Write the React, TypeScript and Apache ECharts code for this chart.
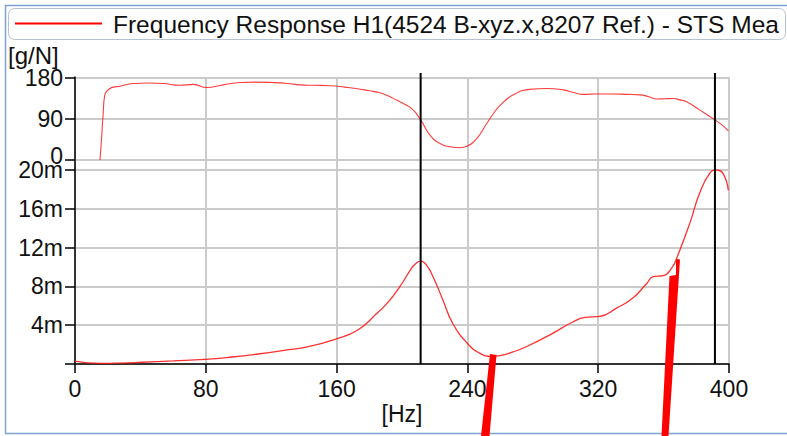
import React, { useEffect, useRef } from "react";
import * as echarts from "echarts";

// ---- data ----
const xTicks = [0, 80, 160, 240, 320, 400];
const phaseTicks = [0, 90, 180];
const magTicks = [0, 4, 8, 12, 16, 20]; // in m(g/N)

const phaseFreq = [15.3, 16.3, 17.2, 18.2, 19.5, 21.4, 23.4, 27.5, 35.6, 45, 54, 64, 72.4, 80.5, 90.7, 101, 110, 121, 130, 137.6, 146, 156, 165, 172, 180, 186, 192, 197, 200.8, 206.8, 211.4, 217, 223, 231, 235.5, 239.6, 245.7, 251.8, 256, 260, 268, 278, 288.5, 298.6, 305, 310.9, 319, 329, 338, 345.6, 351, 355.8, 361, 366, 370, 374, 382, 391.4, 396, 399.6];
const phaseDeg = [0, 50, 100, 143, 151, 157, 160, 162, 168, 169, 168, 164, 166, 159, 165, 170, 171, 170, 168, 165, 164, 163, 160, 157, 152, 148, 140, 131, 124, 110, 88, 55, 37, 28, 27, 30, 47, 80, 102, 120, 143, 155, 157, 154, 148, 144, 145, 145, 144, 143, 139, 134, 134.5, 135, 132, 128, 110, 88, 76, 64];

const magFreq = [0, 8, 16, 28, 40.8, 60, 79.5, 96, 112, 128, 142.7, 159, 173, 184.5, 190, 195, 200, 204, 207.5, 211.4, 215, 219, 225, 231, 239.6, 247.7, 254.8, 260, 268, 276, 290.5, 304.7, 312, 321, 331, 341, 349.7, 353.6, 359.7, 365, 368, 376, 382, 388.4, 392.5, 396.5, 399.6];
const magVal = [0.3, 0.12, 0.07, 0.1, 0.18, 0.32, 0.48, 0.72, 1.03, 1.4, 1.78, 2.55, 3.5, 5.2, 6.1, 7.1, 8.3, 9.4, 10.2, 10.6, 10.2, 9.0, 6.6, 4.2, 2.2, 1.1, 0.78, 0.86, 1.25, 1.78, 3.0, 4.36, 4.8, 4.9, 5.74, 6.77, 8.3, 9.0, 9.1, 9.9, 10.9, 14.5, 17.6, 19.7, 20.0, 19.6, 17.9];

const markerFreq = [211.4, 391.4];

const legendText = "Frequency Response H1(4524 B-xyz.x,8207 Ref.) - STS Mea";
const yUnit = "[g/N]";
const xUnit = "[Hz]";

const FONT = "Liberation Sans";
const GRID = "#cbcbcb";
const RED = "#ff1a1a";

export default function App() {
  const ref = useRef<HTMLDivElement>(null);
  useEffect(() => {
    if (!ref.current) return;
    const chart = echarts.init(ref.current, undefined, { renderer: "svg" });
    const xMin = xTicks[0];
    const xMax = xTicks[xTicks.length - 1];
    const xInt = xTicks[1] - xTicks[0];

    const lbl = { fontFamily: FONT, fontSize: 23, color: "#111" };

    const option: any = {
      animation: false,
      backgroundColor: "#fff",
      grid: [
        { left: 75, right: 58, top: 77, bottom: 72 }, // vertical grid lines + y axis line
        { left: 75, right: 58, top: 78, height: 82 }, // phase
        { left: 75, right: 58, top: 170, bottom: 72 }, // magnitude
        { left: 75, right: 58, top: 73, bottom: 72 }, // markers
      ],
      xAxis: [
        {
          gridIndex: 0, type: "value", min: xMin, max: xMax, interval: xInt,
          axisLine: { show: false }, axisTick: { show: false }, axisLabel: { show: false },
          splitLine: { show: true, lineStyle: { color: GRID, width: 2 } },
        },
        { gridIndex: 1, type: "value", min: xMin, max: xMax, interval: xInt, show: false },
        {
          gridIndex: 2, type: "value", min: xMin, max: xMax, interval: xInt,
          axisLine: { show: true, lineStyle: { color: "#000", width: 1.5 } },
          axisTick: { show: true, length: 9, lineStyle: { color: "#000", width: 1.5 } },
          axisLabel: { ...lbl, margin: 13 },
          splitLine: { show: false },
          name: xUnit, nameLocation: "middle", nameGap: 38,
          nameTextStyle: { fontFamily: FONT, fontSize: 23, color: "#111" },
        },
        { gridIndex: 3, type: "value", min: xMin, max: xMax, show: false },
      ],
      yAxis: [
        {
          gridIndex: 0, type: "value", min: 0, max: 1,
          axisLine: { show: true, onZero: false, lineStyle: { color: "#000", width: 1.5 } },
          axisTick: { show: false }, axisLabel: { show: false }, splitLine: { show: false },
        },
        {
          gridIndex: 1, type: "value", min: phaseTicks[0], max: phaseTicks[phaseTicks.length - 1],
          interval: phaseTicks[1] - phaseTicks[0],
          axisLine: { show: false },
          axisTick: { show: true, length: 10, lineStyle: { color: "#000", width: 1.5 } },
          axisLabel: {
            ...lbl, margin: 12,
            formatter: (v: number) => (v === 0 ? "{z|0}" : String(v)),
            rich: { z: { fontFamily: FONT, fontSize: 23, color: "#111", padding: [0, 0, 8, 0] } },
          },
          splitLine: { show: true, lineStyle: { color: GRID, width: 2 } },
        },
        {
          gridIndex: 2, type: "value", min: magTicks[0], max: magTicks[magTicks.length - 1],
          interval: magTicks[1] - magTicks[0],
          axisLine: { show: false },
          axisTick: { show: true, length: 10, lineStyle: { color: "#000", width: 1.5 } },
          axisLabel: { ...lbl, margin: 12, formatter: (v: number) => (v === 0 ? "" : v + "m") },
          splitLine: { show: true, lineStyle: { color: GRID, width: 2 } },
        },
        { gridIndex: 3, type: "value", min: 0, max: 1, show: false },
      ],
      series: [
        {
          type: "line", xAxisIndex: 1, yAxisIndex: 1, showSymbol: false, symbol: "none",
          smooth: 0.5, silent: true,
          lineStyle: { color: RED, width: 1.1, opacity: 0.85 },
          data: phaseFreq.map((f, i) => [f, phaseDeg[i]]),
        },
        {
          type: "line", xAxisIndex: 2, yAxisIndex: 2, showSymbol: false, symbol: "none",
          smooth: 0.5, silent: true,
          lineStyle: { color: RED, width: 1.3, opacity: 0.9 },
          data: magFreq.map((f, i) => [f, magVal[i]]),
        },
        ...markerFreq.map((f) => ({
          type: "line", xAxisIndex: 3, yAxisIndex: 3, symbol: "none", silent: true,
          lineStyle: { color: "#000", width: 2 },
          data: [[f, 0], [f, 1]],
          z: 5,
        })),
      ],
      graphic: [
        {
          type: "rect", shape: { x: 5.5, y: 5.5, width: 800, height: 428 },
          style: { fill: "none", stroke: "#7ea3d4", lineWidth: 1.5 }, silent: true, z: 1,
        },
        {
          type: "rect", shape: { x: 8.5, y: 8.5, width: 777, height: 31, r: 6 },
          style: { fill: "#fff", stroke: "#b5c2d2", lineWidth: 1 }, silent: true, z: 2,
        },
        {
          type: "line", shape: { x1: 15, y1: 23.5, x2: 102, y2: 23.5 },
          style: { stroke: "#ff0000", lineWidth: 2 }, silent: true, z: 3,
        },
        {
          type: "text", x: 113, y: 24.5, z: 3,
          style: { text: legendText, fontFamily: FONT, fontSize: 24.5, fill: "#111", verticalAlign: "middle" },
        },
        {
          type: "text", x: 8, y: 55, z: 3,
          style: { text: yUnit, fontFamily: FONT, fontSize: 24, fill: "#111", verticalAlign: "middle" },
        },
        {
          type: "polygon", z: 100, silent: true,
          shape: { points: [[490, 354], [496.5, 355], [489.5, 436], [481, 436]] },
          style: { fill: "#ff0000" },
        },
        {
          type: "polygon", z: 100, silent: true,
          shape: { points: [[676, 259], [680, 259.5], [668.5, 436], [661.5, 436], [669.5, 276], [676, 275]] },
          style: { fill: "#ff0000" },
        },
      ],
    };
    chart.setOption(option);
    return () => chart.dispose();
  }, []);
  return (
    <div
      ref={ref}
      style={{ position: "fixed", left: 0, top: 0, width: 787, height: 436 }}
    />
  );
}
